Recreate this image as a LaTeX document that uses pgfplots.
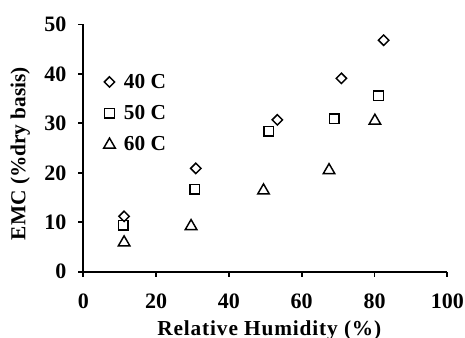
\documentclass[border=0pt]{standalone}
\usepackage{pgfplots}
\pgfplotsset{compat=1.18}
\usepackage{fontspec}
\setmainfont{Liberation Serif}
\begin{document}
\begin{tikzpicture}
\begin{axis}[
  name=ax,
  scale only axis,
  width=273pt, height=185.5pt,
  xmin=0, xmax=100, ymin=0, ymax=50,
  xtick={0,20,...,100}, ytick={0,10,...,50},
  axis x line*=bottom, axis y line*=left,
  axis line style={line width=1.3pt, -},
  tick style={line width=1.3pt, black},
  tick align=outside,
  major tick length=3.75pt,
  xticklabel={\pgfmathprintnumber[assume math mode=true]{\tick}},
  yticklabel={\pgfmathprintnumber[assume math mode=true]{\tick}},
  tick label style={font=\fontsize{16.5}{18}\selectfont\bfseries},
  yticklabel style={xshift=-5.5pt},
  xticklabel style={yshift=-9pt},
  xlabel={\addfontfeatures{LetterSpace=4}Relative Humidity (\%)},
  ylabel={EMC (\%dry basis)},
  label style={font=\fontsize{16}{18}\selectfont\bfseries, inner sep=0pt},
  xlabel style={at={(axis description cs:0.511,-0.197)}, anchor=north},
  ylabel style={at={(axis description cs:-0.146,0.478)}, anchor=south},
  legend style={draw=none, fill=none, at={(axis cs:4.43,41.13)}, anchor=north west,
    font=\fontsize{16}{18}\selectfont\bfseries, row sep=7.4pt},
  legend cell align=left,
  every axis plot/.append style={only marks, line width=1.1pt, black},
]
\addplot[mark=square, mark size=2.75pt, mark options={rotate=45}] coordinates {
 (11.2,11.2) (30.9,20.9) (53.3,30.7) (70.9,39.1) (82.5,46.8)};
\addlegendentry{\hspace{4.5pt}40 C}
\addplot[mark=square, mark size=3.6pt] coordinates {
 (11.0,9.4) (30.6,16.7) (50.9,28.4) (68.9,30.9) (81.1,35.6)};
\addlegendentry{\hspace{4.5pt}50 C}
\addplot[mark=triangle, mark size=5pt] coordinates {
 (11.2,5.9) (29.6,9.2) (49.5,16.4) (67.5,20.5) (80.1,30.5)};
\addlegendentry{\hspace{4.5pt}60 C}
\end{axis}
\pgfresetboundingbox
\path ([shift={(-62.5pt,-49.7pt)}]ax.origin) rectangle ([shift={(286.25pt,203.8pt)}]ax.origin);
\end{tikzpicture}
\end{document}
